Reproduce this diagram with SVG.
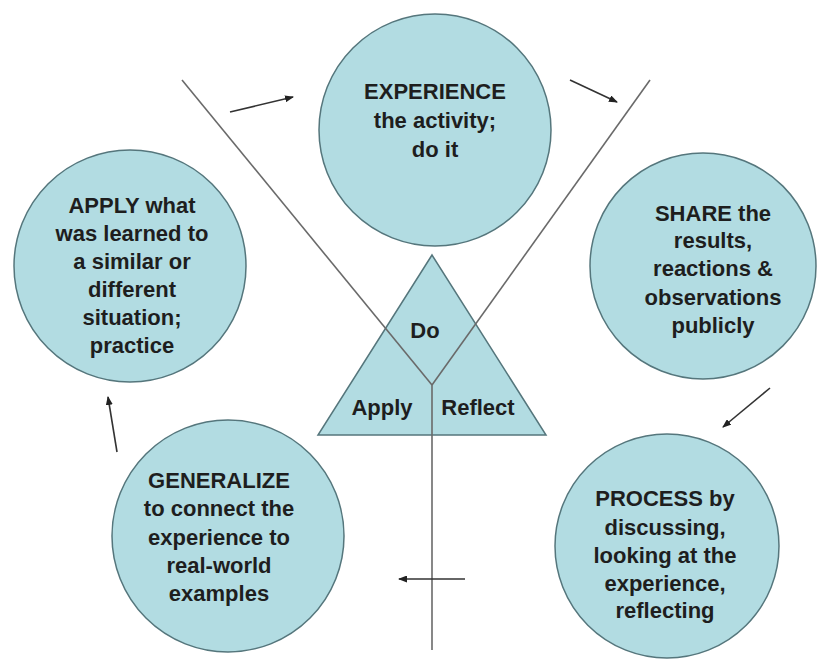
<svg xmlns="http://www.w3.org/2000/svg" width="817" height="663" viewBox="0 0 817 663">
<defs>
<style>
.node{fill:#b2dce2;stroke:#55767c;stroke-width:1.5}
.t{font-family:"Liberation Sans",Arial,sans-serif;font-size:22px;font-weight:bold;fill:#1e1e1e;text-anchor:middle}
.ln{stroke:#6a6a6a;stroke-width:1.6;fill:none}
.ar{stroke:#333;stroke-width:1.6;fill:none;marker-end:url(#ah)}
</style>
<marker id="ah" markerWidth="9" markerHeight="7" refX="8" refY="3.5" orient="auto" markerUnits="userSpaceOnUse">
<path d="M0,0 L9,3.5 L0,7 z" fill="#222"/>
</marker>
</defs>
<rect width="817" height="663" fill="#ffffff"/>
<g id="experience">
<circle class="node" cx="435" cy="130" r="116"/>
<text class="t" x="435" y="99">EXPERIENCE</text>
<text class="t" x="435" y="128">the activity;</text>
<text class="t" x="435" y="157">do it</text>
</g>
<g id="share">
<circle class="node" cx="703" cy="266" r="113"/>
<text class="t" x="713" y="221">SHARE the</text>
<text class="t" x="713" y="248">results,</text>
<text class="t" x="713" y="276">reactions &amp;</text>
<text class="t" x="713" y="305">observations</text>
<text class="t" x="713" y="333">publicly</text>
</g>
<g id="process">
<circle class="node" cx="667" cy="546" r="112"/>
<text class="t" x="665" y="506">PROCESS by</text>
<text class="t" x="665" y="535">discussing,</text>
<text class="t" x="665" y="563">looking at the</text>
<text class="t" x="665" y="591">experience,</text>
<text class="t" x="665" y="618">reflecting</text>
</g>
<g id="generalize">
<circle class="node" cx="228" cy="536" r="116"/>
<text class="t" x="219" y="488">GENERALIZE</text>
<text class="t" x="219" y="516">to connect the</text>
<text class="t" x="219" y="545">experience to</text>
<text class="t" x="219" y="573">real-world</text>
<text class="t" x="219" y="601">examples</text>
</g>
<g id="apply">
<circle class="node" cx="130" cy="266" r="116"/>
<text class="t" x="132" y="213">APPLY what</text>
<text class="t" x="132" y="241">was learned to</text>
<text class="t" x="132" y="269">a similar or</text>
<text class="t" x="132" y="297">different</text>
<text class="t" x="132" y="325">situation;</text>
<text class="t" x="132" y="353">practice</text>
</g>
<g id="triangle">
<polygon class="node" points="432,255 318,435 546,435"/>
<text class="t" x="425" y="338">Do</text>
<text class="t" x="382" y="415">Apply</text>
<text class="t" x="478" y="415">Reflect</text>
</g>
<g id="connectors">
<line class="ln" x1="182" y1="80" x2="432" y2="385"/>
<line class="ln" x1="650" y1="80" x2="432" y2="385"/>
<line class="ln" x1="432" y1="385" x2="432" y2="650"/>
<line class="ar" x1="230" y1="112" x2="293" y2="97"/>
<line class="ar" x1="570" y1="80" x2="617" y2="102"/>
<line class="ar" x1="770" y1="388" x2="723" y2="427"/>
<line class="ar" x1="465" y1="579" x2="399" y2="579"/>
<line class="ar" x1="117" y1="452" x2="108" y2="397"/>
</g>
</svg>
